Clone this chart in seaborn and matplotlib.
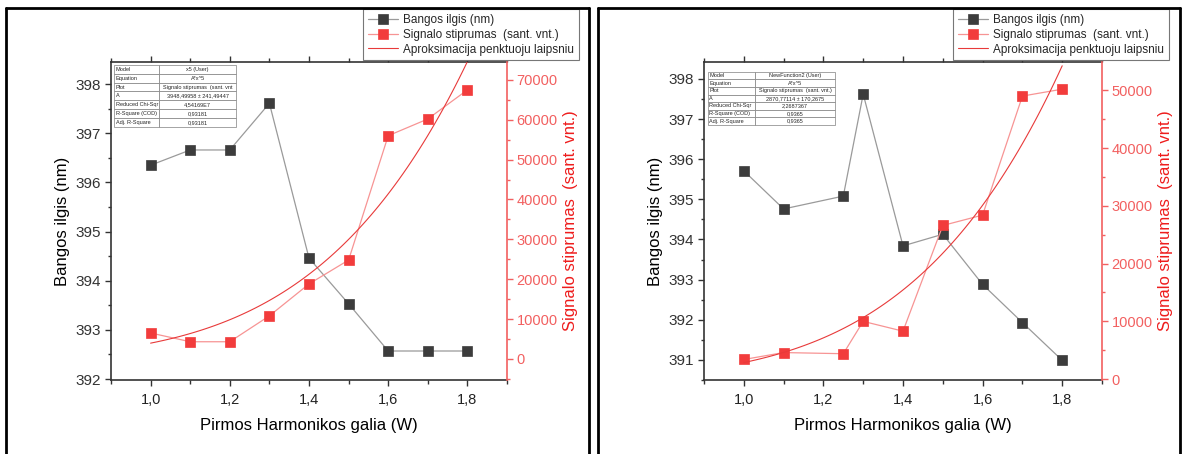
import numpy as np
import pandas as pd
import matplotlib
matplotlib.use("Agg")
import matplotlib.pyplot as plt
from matplotlib.lines import Line2D
from matplotlib.ticker import MultipleLocator, FuncFormatter
import seaborn as sns

# ---------------- data ----------------
power_left = [1.0, 1.1, 1.2, 1.3, 1.4, 1.5, 1.6, 1.7, 1.8]
wave_left = [396.35, 396.66, 396.66, 397.61, 394.46, 393.53, 392.57, 392.57, 392.57]
signal_left = [6500, 4300, 4300, 10800, 18800, 24800, 56000, 60200, 67500]
fit_A_left = 3948.49958

power_right = [1.0, 1.1, 1.25, 1.3, 1.4, 1.5, 1.6, 1.7, 1.8]
wave_right = [395.71, 394.76, 395.08, 397.62, 393.84, 394.13, 392.88, 391.93, 390.99]
signal_right = [3400, 4600, 4400, 10000, 8300, 26600, 28400, 49000, 50200]
fit_A_right = 2870.77114

table_keys = ["Model", "Equation", "Plot", "A", "Reduced Chi-Sqr",
              "R-Square (COD)", "Adj. R-Square"]
table_left_vals = ["x5 (User)", "A*x^5", "Signalo stiprumas  (sant. vnt",
                   "3948,49958 \u00b1 241,49447", "4,54169E7", "0,93181", "0,93181"]
table_right_vals = ["NewFunction2 (User)", "A*x^5", "Signalo stiprumas  (sant. vnt.)",
                    "2870,77114 \u00b1 170,2675", "2,2687367", "0,9365", "0,9365"]

label_x = "Pirmos Harmonikos galia (W)"
label_wave = "Bangos ilgis (nm)"
label_signal = "Signalo stiprumas  (sant. vnt.)"
label_fit = "Aproksimacija penktuoju laipsniu"

# ---------------- style ----------------
sns.set_theme(style="white")
plt.rcParams["font.family"] = ["Liberation Sans", "DejaVu Sans"]

W, H = 1184, 454
fig = plt.figure(figsize=(W / 100, H / 100), dpi=100)
fig.patch.set_facecolor("white")

BLACK_LINE = "#9a9a9a"
BLACK_MARK = "#3c3c3c"
RED_MARK = "#f23c3c"
RED_LINE = "#f79494"
FIT_RED = "#e83a3a"
AXIS_GRAY = "#333333"
AXIS_RED = "#f26060"
LABEL_RED = "#ee1c1c"


def comma_fmt(v, pos):
    return f"{v:.1f}".replace(".", ",")


def make_panel(px_left, px_right, power, wave, signal, fit_A,
               ylim_w, yticks_w, ylim_s, yticks_s, tab_vals, tab_box,
               legend_xy):
    px_top, px_bottom = 62, 380
    ax = fig.add_axes([px_left / W, (H - px_bottom) / H,
                       (px_right - px_left) / W, (px_bottom - px_top) / H])
    ax2 = ax.twinx()

    df = pd.DataFrame({"P": power, "W": wave, "S": signal})
    fit_x = np.linspace(1.0, 1.8, 80)
    fit_df = pd.DataFrame({"P": fit_x, "S": fit_A * fit_x ** 5})

    sns.lineplot(data=df, x="P", y="W", ax=ax, color=BLACK_LINE, linewidth=0.9,
                 marker="s", markersize=6.5, markerfacecolor=BLACK_MARK,
                 markeredgecolor=BLACK_MARK, markeredgewidth=0.5,
                 label=label_wave, legend=False)
    sns.lineplot(data=df, x="P", y="S", ax=ax2, color=RED_LINE, linewidth=0.9,
                 marker="s", markersize=6.5, markerfacecolor=RED_MARK,
                 markeredgecolor=RED_MARK, markeredgewidth=0.5,
                 label=label_signal, legend=False)
    sns.lineplot(data=fit_df, x="P", y="S", ax=ax2, color=FIT_RED, linewidth=0.8,
                 label=label_fit, legend=False)

    ax.set_xlim(0.9, 1.9)
    ax.xaxis.set_major_locator(MultipleLocator(0.2))
    ax.xaxis.set_minor_locator(MultipleLocator(0.1))
    ax.xaxis.set_major_formatter(FuncFormatter(comma_fmt))
    ax.set_ylim(*ylim_w)
    ax.set_yticks(yticks_w)
    ax.yaxis.set_minor_locator(MultipleLocator(0.5))
    ax2.set_ylim(*ylim_s)
    ax2.set_yticks(yticks_s)
    ax2.yaxis.set_minor_locator(MultipleLocator(5000))

    ax.set_xlabel(label_x, fontsize=12, color="black", labelpad=8)
    ax.set_ylabel(label_wave, fontsize=12, color="black", labelpad=4)
    ax2.set_ylabel(label_signal, fontsize=12, color=LABEL_RED, labelpad=4)

    for s in ["left", "bottom", "top"]:
        ax.spines[s].set_visible(True)
        ax.spines[s].set_color(AXIS_GRAY)
        ax.spines[s].set_linewidth(1.2)
    ax.spines["right"].set_visible(False)
    for s in ["left", "bottom", "top"]:
        ax2.spines[s].set_visible(False)
    ax2.spines["right"].set_visible(True)
    ax2.spines["right"].set_color(AXIS_RED)
    ax2.spines["right"].set_linewidth(1.2)

    ax.tick_params(axis="x", which="both", direction="out", bottom=True, top=True,
                   colors=AXIS_GRAY, labelsize=10.5, labelcolor="#222222", width=1)
    ax.tick_params(axis="x", which="major", length=4, pad=5)
    ax.tick_params(axis="x", which="minor", length=3)
    ax.tick_params(axis="y", which="both", direction="out", left=True,
                   colors=AXIS_GRAY, labelsize=11, labelcolor="#333333", width=1)
    ax.tick_params(axis="y", which="major", length=4, pad=3)
    ax.tick_params(axis="y", which="minor", length=2.5)
    ax2.tick_params(axis="y", which="both", direction="out", right=True,
                    colors=AXIS_RED, labelsize=10.5, labelcolor=AXIS_RED, width=1)
    ax2.tick_params(axis="y", which="major", length=4, pad=3)
    ax2.tick_params(axis="y", which="minor", length=2.5)
    ax.grid(False)
    ax2.grid(False)
    ax.set_facecolor("white")

    tab = ax2.table(cellText=[[k, v] for k, v in zip(table_keys, tab_vals)],
                    colWidths=[0.37, 0.63], cellLoc="left", bbox=tab_box)
    tab.auto_set_font_size(False)
    tab.set_fontsize(4.0)
    for (r, c), cell in tab.get_celld().items():
        cell.set_edgecolor("#808080")
        cell.set_linewidth(0.5)
        cell.PAD = 0.03
        if c == 1:
            cell.get_text().set_horizontalalignment("center")
            cell._loc = "center"

    h1, l1 = ax.get_legend_handles_labels()
    h2, l2 = ax2.get_legend_handles_labels()
    leg = ax2.legend(h1 + h2, l1 + l2, loc="upper left",
                     bbox_to_anchor=(legend_xy[0] / W, 1 - legend_xy[1] / H),
                     bbox_transform=fig.transFigure, borderaxespad=0,
                     fontsize=8.5, frameon=True, fancybox=False, framealpha=1,
                     edgecolor="#777777", handlelength=2.6, handletextpad=0.4,
                     borderpad=0.4, labelspacing=0.25)
    leg.get_frame().set_linewidth(0.8)
    return ax, ax2


make_panel(111, 507, power_left, wave_left, signal_left, fit_A_left,
           (391.98, 398.45), [392, 393, 394, 395, 396, 397, 398],
           (-5300, 74500), list(range(0, 70001, 10000)),
           table_left_vals, [0.008, 0.796, 0.308, 0.195], (363, 9))

make_panel(704, 1102, power_right, wave_right, signal_right, fit_A_right,
           (390.5, 398.42), [391, 392, 393, 394, 395, 396, 397, 398],
           (-150, 54900), list(range(0, 50001, 10000)),
           table_right_vals, [0.01, 0.802, 0.319, 0.167], (953, 9))

# panel frames
for x0, x1 in [(6, 589), (598, 1180)]:
    yt = 1 - 8 / H
    kw = dict(transform=fig.transFigure, color="black", linewidth=2, zorder=20)
    fig.add_artist(Line2D([x0 / W, x1 / W], [yt, yt], **kw))
    fig.add_artist(Line2D([x0 / W, x0 / W], [0, yt], **kw))
    fig.add_artist(Line2D([x1 / W, x1 / W], [0, yt], **kw))

fig.savefig("out.png", dpi=100)
